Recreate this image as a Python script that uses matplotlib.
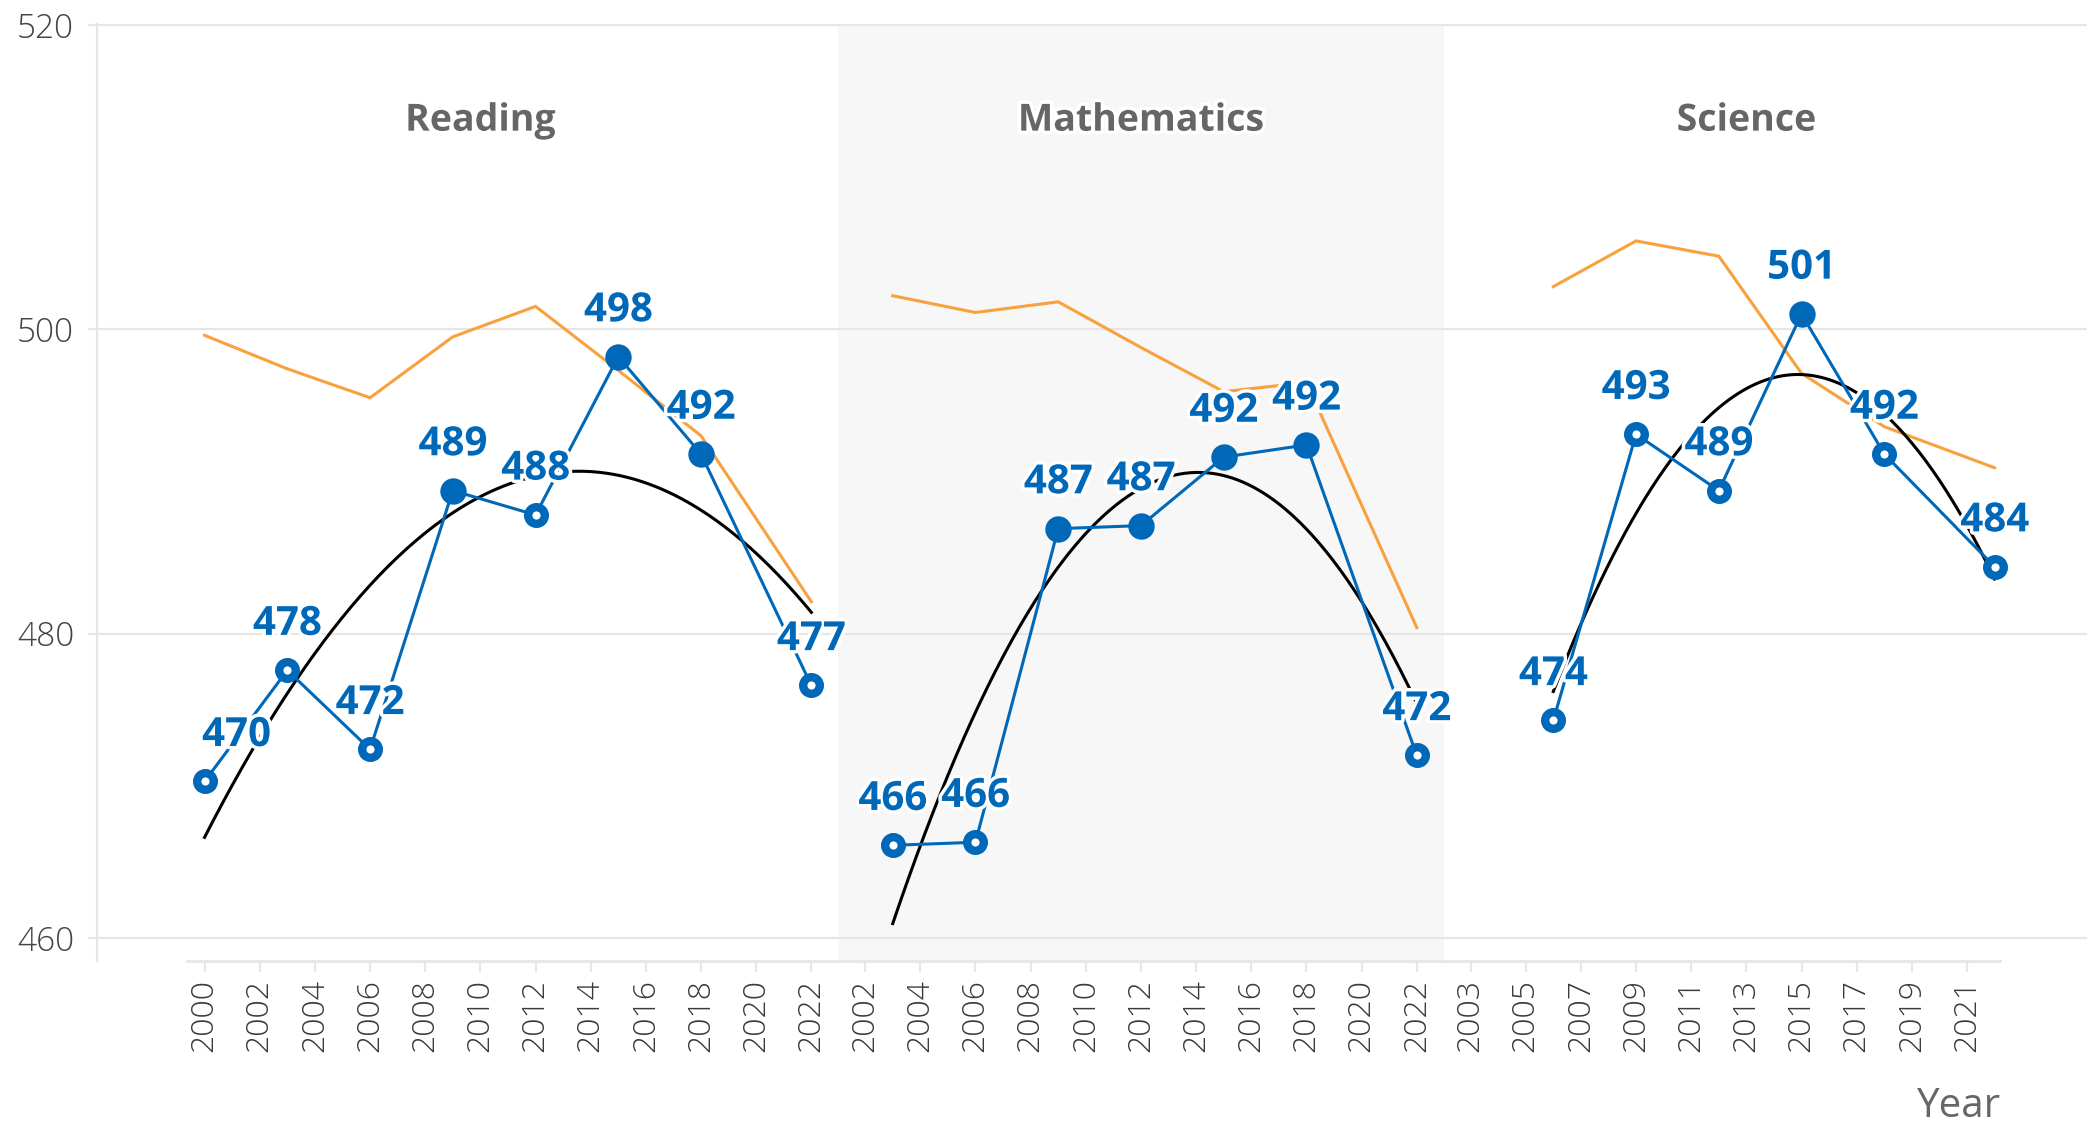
import numpy as np
import matplotlib
matplotlib.use("Agg")
import matplotlib.pyplot as plt
import matplotlib.patheffects as pe

# datos
materias = ["Reading", "Mathematics", "Science"]

anios_lectura = [2000, 2003, 2006, 2009, 2012, 2015, 2018, 2022]
pais_lectura = [470.3, 477.6, 472.4, 489.4, 487.8, 498.2, 491.8, 476.6]
signif_lectura = [False, False, False, True, False, True, True, False]
ref_lectura = [499.6, 497.4, 495.5, 499.5, 501.5, 497.3, 493.0, 482.1]

anios_mate = [2003, 2006, 2009, 2012, 2015, 2018, 2022]
pais_mate = [466.1, 466.3, 486.9, 487.1, 491.6, 492.4, 472.0]
signif_mate = [False, False, True, True, True, True, False]
ref_mate = [502.2, 501.1, 501.8, 498.8, 495.9, 496.5, 480.4]

anios_ciencia = [2006, 2009, 2012, 2015, 2018, 2022]
pais_ciencia = [474.3, 493.1, 489.4, 501.0, 491.8, 484.4]
signif_ciencia = [False, False, False, True, False, False]
ref_ciencia = [502.8, 505.8, 504.8, 497.1, 493.6, 490.9]

ticks_lectura = list(range(2000, 2023, 2))
ticks_mate = list(range(2002, 2023, 2))
ticks_ciencia = list(range(2003, 2022, 2))

AZUL = "#0068B8"
NARANJA = "#F9A03F"
GRIS_GRID = "#E6E6E6"
FUENTE = ["Open Sans", "DejaVu Sans"]

paneles = [
    (anios_lectura, pais_lectura, signif_lectura, ref_lectura, ticks_lectura,
     (1996.1, 2022.95), (1999.35, 2022.95), 2010.0, "white"),
    (anios_mate, pais_mate, signif_mate, ref_mate, ticks_mate,
     (2001.0, 2023.0), (2001.0, 2023.0), 2012.0, "#F7F7F7"),
    (anios_ciencia, pais_ciencia, signif_ciencia, ref_ciencia, ticks_ciencia,
     (2002.05, 2025.35), (2002.05, 2022.2), 2013.0, "white"),
]

anchos = [p[5][1] - p[5][0] for p in paneles]

fig = plt.figure(figsize=(20.87, 11.26), dpi=100)
gs = fig.add_gridspec(1, 3, width_ratios=anchos, wspace=0,
                      left=97 / 2087, right=1.0,
                      top=1 - 24 / 1126, bottom=1 - 961 / 1126)

halo = [pe.withStroke(linewidth=5, foreground="white")]

for i, (anios, pais, signif, ref, ticks, xlim, limites, xtitulo, fondo) in enumerate(paneles):
    ax = fig.add_subplot(gs[0, i])
    # el panel de la izquierda encima, para que las etiquetas que se salen no queden tapadas
    ax.set_zorder(3 - i)
    ax.set_facecolor(fondo)
    ax.set_xlim(*xlim)
    ax.set_ylim(458.5, 520.05)

    # linea de referencia
    ax.plot(anios, ref, color=NARANJA, lw=2.2, zorder=3, solid_joinstyle="miter")

    # tendencia cuadratica
    coef = np.polyfit(anios, pais, 2)
    xs = np.linspace(anios[0], anios[-1], 200)
    ax.plot(xs, np.polyval(coef, xs), color="black", lw=2.2, zorder=4)

    # serie principal
    ax.plot(anios, pais, color=AZUL, lw=2.2, zorder=5)
    for a, v, s in zip(anios, pais, signif):
        if s:
            ax.plot(a, v, "o", ms=19, color=AZUL, mec=AZUL, mew=0, zorder=6)
        else:
            ax.plot(a, v, "o", ms=12, mfc="white", mec=AZUL, mew=6, zorder=6)
        dx = 23 if (i == 0 and a == 2000) else 0
        ax.annotate(f"{v:.0f}", (a, v), xytext=(dx, 33), textcoords="offset points",
                    ha="center", va="center", fontsize=29, fontweight="bold",
                    color=AZUL, family=FUENTE, zorder=8, path_effects=halo,
                    annotation_clip=False, clip_on=False)

    ax.text(xtitulo, 513.7, materias[i], ha="center", va="center", fontsize=27,
            fontweight="bold", color="#666666", family=FUENTE, zorder=8,
            path_effects=halo)

    # ejes
    ax.set_yticks([460, 480, 500, 520])
    ax.grid(axis="y", color=GRIS_GRID, lw=1.6, zorder=0)
    ax.set_axisbelow(True)
    ax.set_xticks(ticks)
    ax.set_xticklabels([str(t) for t in ticks], rotation=90, fontsize=23,
                       color="#3A3A3A", family=FUENTE, fontweight="light")
    ax.tick_params(axis="x", length=8, width=1.6, color=GRIS_GRID, pad=5)
    for lado in ["top", "right"]:
        ax.spines[lado].set_visible(False)
    ax.spines["bottom"].set_color(GRIS_GRID)
    ax.spines["bottom"].set_linewidth(2)
    ax.spines["bottom"].set_bounds(*limites)
    if i == 0:
        ax.spines["left"].set_color(GRIS_GRID)
        ax.spines["left"].set_linewidth(1.6)
        ax.tick_params(axis="y", length=6.5, width=1.6, color=GRIS_GRID, pad=10,
                       labelsize=24, labelcolor="#444444")
        for t in ax.get_yticklabels():
            t.set_family(FUENTE)
            t.set_fontweight("light")
    else:
        ax.spines["left"].set_visible(False)
        ax.tick_params(axis="y", length=0, labelleft=False)

fig.text(2001 / 2087, 1 - 1107 / 1126, "Year", ha="right", va="center",
         fontsize=29, color="#666666", family=FUENTE)

fig.savefig("out.png", dpi=100)
